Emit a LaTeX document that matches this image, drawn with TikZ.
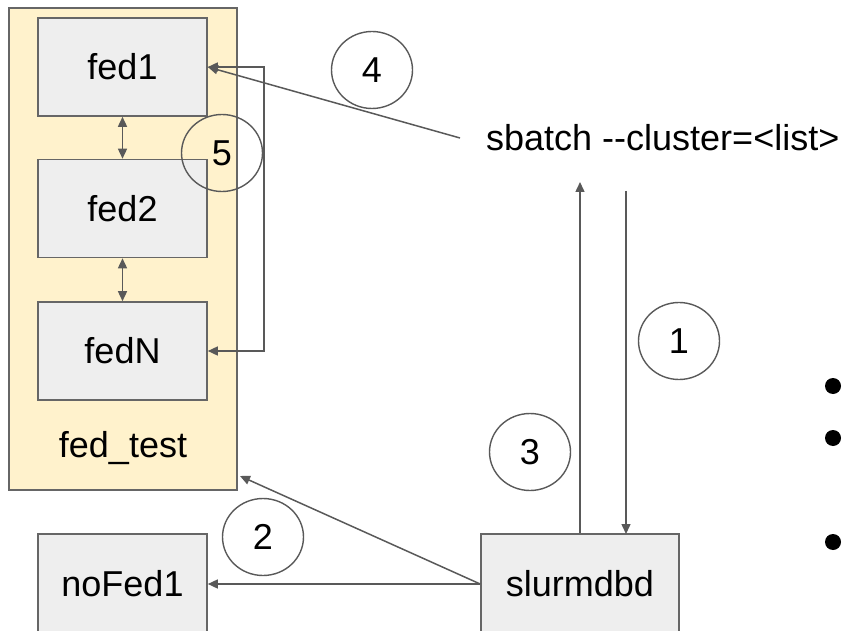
\documentclass[tikz,border=0pt]{standalone}
\usepackage{fontspec}
\setmainfont[Ligatures=NoCommon]{Liberation Sans}
\usetikzlibrary{arrows.meta,shapes.geometric}
\definecolor{linegray}{HTML}{595959}
\definecolor{boxgray}{HTML}{666666}
\definecolor{boxfill}{HTML}{EEEEEE}
\definecolor{groupfill}{HTML}{FFF2CC}
\tikzset{
  every node/.style={font=\fontsize{36}{43}\selectfont},
  groupbox/.style={draw=boxgray, fill=groupfill, line width=1.6pt, inner sep=0pt},
  hostbox/.style={draw=boxgray, fill=boxfill, line width=1.6pt, inner sep=0pt,
    minimum width=169pt, minimum height=98pt},
  stepmark/.style={ellipse, draw=linegray, line width=1.4pt, inner sep=0pt,
    minimum width=81pt, minimum height=77pt},
  conn/.style={draw=linegray, line width=1.5pt},
  tip/.style={-{Triangle[length=10pt,width=9pt]}},
  tips/.style={{Triangle[length=10pt,width=9pt]}-{Triangle[length=10pt,width=9pt]}},
  dotmark/.style={circle, fill=black, inner sep=0pt, minimum size=16pt}
}
\begin{document}
\begin{tikzpicture}[x=1pt, y=-1pt]
  \useasboundingbox (0,0) rectangle (854,631);

  % federation fed_test
  \node[groupbox, minimum width=228pt, minimum height=482pt] (fedtest) at (123,249) {};
  \node (fedlabel) at (123,448) {fed\_test};
  \node[hostbox] (fed1) at (122.5,67) {fed1};
  \node[hostbox] (fed2) at (122.5,208.5) {fed2};
  \node[hostbox] (fedN) at (122.5,351) {fedN};

  % standalone cluster and database daemon
  \node[hostbox, minimum height=100pt] (nofed) at (122.5,584) {noFed1};
  \node[hostbox, minimum width=198pt, minimum height=100pt] (dbd) at (580,584) {slurmdbd};

  % submission command
  \node[inner xsep=26pt, inner ysep=0pt, anchor=west] (sbatch) at (460,138) {sbatch -{}-cluster=<list>};

  % free ends of the vertical connectors
  \coordinate (upend) at (580,182);
  \coordinate (downstart) at (626,191);
  \coordinate (downend) at (626,534);
  \coordinate (fedtip) at (240,476);

  % sibling links inside the federation
  \draw[conn, tips] (fed1.south) -- (fed2.north);
  \draw[conn, tips] (fed2.south) -- (fedN.north);
  \draw[conn, tips] (fed1.east) -- ++(56,0) |- (fedN.east);

  % submission path
  \draw[conn, tip] (sbatch.west) -- (fed1.east);
  \draw[conn, tip] (downstart) -- (downend);
  \draw[conn, tip] (dbd.north) -- (upend);
  \draw[conn, tip] (dbd.west) -- (nofed.east);
  \draw[conn, tip] (dbd.west) -- (fedtip);

  % step numbers
  \node[stepmark] (s4) at (372,70) {4};
  \node[stepmark] (s5) at (222,153) {5};
  \node[stepmark] (s1) at (679,341) {1};
  \node[stepmark] (s3) at (530,452) {3};
  \node[stepmark] (s2) at (263,537) {2};

  % bullets
  \node[dotmark] (b1) at (833,386) {};
  \node[dotmark] (b2) at (833,438) {};
  \node[dotmark] (b3) at (833,542) {};
\end{tikzpicture}
\end{document}
